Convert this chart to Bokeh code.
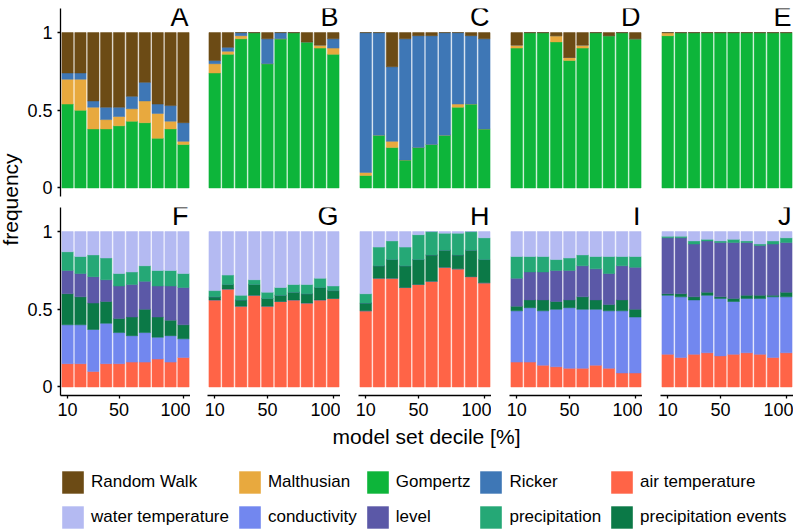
from math import pi
from bokeh.plotting import figure
from bokeh.models import Range1d, FixedTicker, Label, Legend, LegendItem, ColumnDataSource
from bokeh.layouts import row, column
from bokeh.embed import file_html
from bokeh.resources import INLINE

# ---------------- data ----------------
deciles = [10, 20, 30, 40, 50, 60, 70, 80, 90, 100]
x_ticks = [10, 50, 100]
y_ticks = [0, 0.5, 1]
y_tick_labels = ["0", "0.5", "1"]

model_keys = ["gompertz", "malthusian", "ricker", "random_walk"]          # stacking order (bottom -> top)
driver_keys = ["air", "conductivity", "precip_events", "level", "precip", "water"]

# top row: model frequencies
A_gompertz    = [0.54, 0.50, 0.38, 0.38, 0.40, 0.43, 0.42, 0.32, 0.38, 0.28]
A_malthusian  = [0.16, 0.20, 0.14, 0.06, 0.06, 0.08, 0.14, 0.16, 0.05, 0.02]
A_ricker      = [0.04, 0.04, 0.04, 0.08, 0.06, 0.08, 0.12, 0.06, 0.10, 0.12]
A_random_walk = [0.26, 0.26, 0.44, 0.48, 0.48, 0.41, 0.32, 0.46, 0.47, 0.58]

B_gompertz    = [0.74, 0.86, 0.96, 1.00, 0.80, 0.96, 1.00, 0.94, 0.90, 0.86]
B_malthusian  = [0.06, 0.02, 0.02, 0.00, 0.00, 0.00, 0.00, 0.00, 0.02, 0.04]
B_ricker      = [0.02, 0.025, 0.02, 0.00, 0.16, 0.04, 0.00, 0.00, 0.00, 0.06]
B_random_walk = [0.18, 0.095, 0.00, 0.00, 0.04, 0.00, 0.00, 0.06, 0.08, 0.04]

C_gompertz    = [0.08, 0.34, 0.26, 0.18, 0.26, 0.28, 0.34, 0.52, 0.54, 0.38]
C_malthusian  = [0.02, 0.00, 0.04, 0.00, 0.00, 0.00, 0.00, 0.02, 0.00, 0.00]
C_ricker      = [0.90, 0.66, 0.48, 0.78, 0.72, 0.70, 0.66, 0.46, 0.44, 0.58]
C_random_walk = [0.00, 0.00, 0.22, 0.04, 0.02, 0.02, 0.00, 0.00, 0.02, 0.04]

D_gompertz    = [0.90, 1.00, 1.00, 0.94, 0.82, 0.90, 1.00, 0.98, 1.00, 0.96]
D_malthusian  = [0.02, 0.00, 0.00, 0.04, 0.02, 0.02, 0.00, 0.00, 0.00, 0.00]
D_ricker      = [0.00, 0.00, 0.00, 0.00, 0.00, 0.00, 0.00, 0.00, 0.00, 0.00]
D_random_walk = [0.08, 0.00, 0.00, 0.02, 0.16, 0.08, 0.00, 0.02, 0.00, 0.04]

E_gompertz    = [0.98, 1.00, 1.00, 1.00, 1.00, 1.00, 1.00, 1.00, 1.00, 1.00]
E_malthusian  = [0.02, 0.00, 0.00, 0.00, 0.00, 0.00, 0.00, 0.00, 0.00, 0.00]
E_ricker      = [0.00, 0.00, 0.00, 0.00, 0.00, 0.00, 0.00, 0.00, 0.00, 0.00]
E_random_walk = [0.00, 0.00, 0.00, 0.00, 0.00, 0.00, 0.00, 0.00, 0.00, 0.00]

# bottom row: driver frequencies
F_air           = [0.15, 0.15, 0.10, 0.15, 0.15, 0.16, 0.16, 0.18, 0.16, 0.19]
F_conductivity  = [0.25, 0.25, 0.27, 0.26, 0.20, 0.17, 0.19, 0.14, 0.17, 0.12]
F_precip_events = [0.20, 0.18, 0.17, 0.14, 0.09, 0.12, 0.15, 0.13, 0.10, 0.09]
F_level         = [0.15, 0.15, 0.17, 0.14, 0.21, 0.21, 0.18, 0.20, 0.22, 0.24]
F_precip        = [0.12, 0.11, 0.14, 0.14, 0.08, 0.08, 0.10, 0.10, 0.10, 0.09]
F_water         = [0.13, 0.16, 0.15, 0.17, 0.27, 0.26, 0.22, 0.25, 0.25, 0.27]

G_air           = [0.56, 0.63, 0.52, 0.59, 0.52, 0.55, 0.56, 0.54, 0.56, 0.57]
G_conductivity  = [0.00, 0.00, 0.00, 0.00, 0.00, 0.00, 0.00, 0.00, 0.00, 0.00]
G_precip_events = [0.02, 0.03, 0.04, 0.07, 0.05, 0.04, 0.05, 0.06, 0.08, 0.05]
G_level         = [0.00, 0.00, 0.00, 0.00, 0.00, 0.00, 0.00, 0.00, 0.00, 0.00]
G_precip        = [0.04, 0.06, 0.03, 0.03, 0.04, 0.05, 0.05, 0.06, 0.06, 0.03]
G_water         = [0.38, 0.28, 0.41, 0.31, 0.39, 0.36, 0.34, 0.34, 0.30, 0.35]

H_air           = [0.49, 0.70, 0.70, 0.64, 0.66, 0.68, 0.77, 0.76, 0.71, 0.67]
H_conductivity  = [0.00, 0.00, 0.00, 0.00, 0.00, 0.00, 0.00, 0.00, 0.00, 0.00]
H_precip_events = [0.05, 0.08, 0.12, 0.14, 0.16, 0.17, 0.11, 0.09, 0.17, 0.15]
H_level         = [0.00, 0.00, 0.00, 0.00, 0.00, 0.00, 0.00, 0.00, 0.00, 0.00]
H_precip        = [0.06, 0.12, 0.12, 0.12, 0.16, 0.15, 0.11, 0.14, 0.12, 0.14]
H_water         = [0.40, 0.10, 0.06, 0.10, 0.02, 0.00, 0.01, 0.01, 0.00, 0.04]

I_air           = [0.16, 0.16, 0.14, 0.13, 0.12, 0.12, 0.14, 0.12, 0.09, 0.09]
I_conductivity  = [0.33, 0.35, 0.35, 0.37, 0.39, 0.38, 0.36, 0.37, 0.40, 0.36]
I_precip_events = [0.03, 0.05, 0.07, 0.05, 0.05, 0.08, 0.06, 0.04, 0.07, 0.05]
I_level         = [0.18, 0.18, 0.18, 0.20, 0.19, 0.20, 0.20, 0.20, 0.22, 0.27]
I_precip        = [0.14, 0.10, 0.10, 0.07, 0.08, 0.07, 0.08, 0.11, 0.06, 0.07]
I_water         = [0.16, 0.16, 0.16, 0.18, 0.17, 0.15, 0.16, 0.16, 0.16, 0.16]

J_air           = [0.21, 0.19, 0.21, 0.22, 0.20, 0.21, 0.22, 0.21, 0.19, 0.22]
J_conductivity  = [0.38, 0.39, 0.35, 0.37, 0.37, 0.34, 0.35, 0.36, 0.39, 0.36]
J_precip_events = [0.01, 0.02, 0.02, 0.02, 0.01, 0.02, 0.02, 0.02, 0.01, 0.03]
J_level         = [0.36, 0.36, 0.34, 0.33, 0.35, 0.36, 0.34, 0.32, 0.33, 0.32]
J_precip        = [0.01, 0.01, 0.02, 0.01, 0.01, 0.02, 0.01, 0.01, 0.02, 0.03]
J_water         = [0.03, 0.03, 0.06, 0.05, 0.06, 0.05, 0.06, 0.08, 0.06, 0.04]

legend_labels = ["Random Walk", "Malthusian", "Gompertz", "Ricker", "air temperature",
                 "water temperature", "conductivity", "level", "precipitation", "precipitation events"]
legend_keys = ["random_walk", "malthusian", "gompertz", "ricker", "air",
               "water", "conductivity", "level", "precip", "precip_events"]

x_title = "model set decile [%]"
y_title = "frequency"

colors = {
    "random_walk": "#6C4B15", "malthusian": "#E8A93E", "gompertz": "#0DB53A", "ricker": "#3E77B6",
    "air": "#FF6447", "water": "#B4BAF2", "conductivity": "#7287EF", "level": "#5B58A7",
    "precip": "#25A876", "precip_events": "#0B7947",
}

FONT = "Liberation Sans"
g = globals()

# ---------------- layout constants ----------------
YLAB_W = 24
col_widths = [166, 150, 151, 151, 151]
col_borders = [33, 17, 18, 18, 18]
TOP_H, TOP_BT, TOP_BB = 201, 8, 5
BOT_H, BOT_BT, BOT_BB = 222, 6, 28
LEG_H = 532 - TOP_H - BOT_H


def style_axis(ax):
    ax.axis_line_color = "black"
    ax.axis_line_width = 1.3
    ax.major_tick_line_color = "black"
    ax.major_tick_line_width = 1.3
    ax.major_tick_in = 0
    ax.major_tick_out = 3
    ax.minor_tick_line_color = None
    ax.major_label_text_font = FONT
    ax.major_label_text_font_size = "18px"
    ax.major_label_text_color = "black"


def make_panel(letter, keys, idx, top_row):
    show_y = idx == 0
    show_x = not top_row
    p = figure(width=col_widths[idx], height=TOP_H if top_row else BOT_H,
               x_range=Range1d(4.5, 105.5), y_range=Range1d(-0.055, 1.155),
               output_backend="svg", toolbar_location=None,
               x_axis_location="below" if show_x else None,
               y_axis_location="left" if show_y else None,
               min_border=0, min_border_left=col_borders[idx], min_border_right=0,
               min_border_top=TOP_BT if top_row else BOT_BT,
               min_border_bottom=TOP_BB if top_row else BOT_BB)
    p.outline_line_color = None
    p.grid.visible = False
    data = {"x": deciles}
    for k in keys:
        data[k] = g[f"{letter}_{k}"]
    src = ColumnDataSource(data)
    cols = [colors[k] for k in keys]
    p.vbar_stack(keys, x="x", width=8.8, source=src, fill_color=cols, line_color=cols, line_width=0.5)
    p.add_layout(Label(x=104, y=1.1, text=letter, text_align="right", text_baseline="middle",
                       text_font=FONT, text_font_size="27px", text_color="black"))
    if show_y:
        p.yaxis.ticker = FixedTicker(ticks=y_ticks)
        p.yaxis.major_label_overrides = dict(zip(y_ticks, y_tick_labels))
        style_axis(p.yaxis[0])
    if show_x:
        p.xaxis.ticker = FixedTicker(ticks=x_ticks)
        style_axis(p.xaxis[0])
        p.xaxis.major_label_standoff = 4
    return p


top = [make_panel(L, model_keys, i, True) for i, L in enumerate("ABCDE")]
bottom = [make_panel(L, driver_keys, i, False) for i, L in enumerate("FGHIJ")]

# y-axis title column
lab_h = TOP_H + BOT_H
ylab = figure(width=YLAB_W, height=lab_h, x_range=Range1d(0, 1), y_range=Range1d(0, 1),
              output_backend="svg", toolbar_location=None, x_axis_location=None, y_axis_location=None,
              min_border=0)
ylab.outline_line_color = None
ylab.grid.visible = False
ylab.add_layout(Label(x=10, y=lab_h - 199, x_units="screen", y_units="screen", text=y_title,
                      angle=pi / 2, text_align="center", text_baseline="middle",
                      text_font=FONT, text_font_size="21px", text_color="black"))

# legend + x title figure
total_w = YLAB_W + sum(col_widths)
leg = figure(width=total_w, height=LEG_H, x_range=Range1d(0, 1), y_range=Range1d(0, 1),
             output_backend="svg", toolbar_location=None, x_axis_location=None, y_axis_location=None,
             min_border=0)
leg.outline_line_color = None
leg.grid.visible = False
leg.add_layout(Label(x=426, y=LEG_H - (436 - TOP_H - BOT_H), x_units="screen", y_units="screen",
                     text=x_title, text_align="center", text_baseline="middle",
                     text_font=FONT, text_font_size="21px", text_color="black"))
items = []
for lab, k in zip(legend_labels, legend_keys):
    # zero-height, off-range placeholder bar used only to draw the legend key
    dummy = ColumnDataSource({"x": [-10], "top": [0]})
    r = leg.vbar(x="x", top="top", width=0.1, source=dummy, fill_color=colors[k], line_color=None)
    items.append(LegendItem(label=lab, renderers=[r]))
legend = Legend(items=items, ncols=5, orientation="horizontal", location=(59, 1),
                glyph_width=27, glyph_height=28, label_height=28, label_standoff=5, spacing=7,
                padding=0, margin=0, border_line_color=None, background_fill_alpha=0,
                label_text_font=FONT, label_text_font_size="17px", label_text_color="black")
leg.add_layout(legend, "center")

layout = column(row(ylab, column(row(*top), row(*bottom))), leg)

open("out.html", "w").write(file_html(layout, INLINE))
